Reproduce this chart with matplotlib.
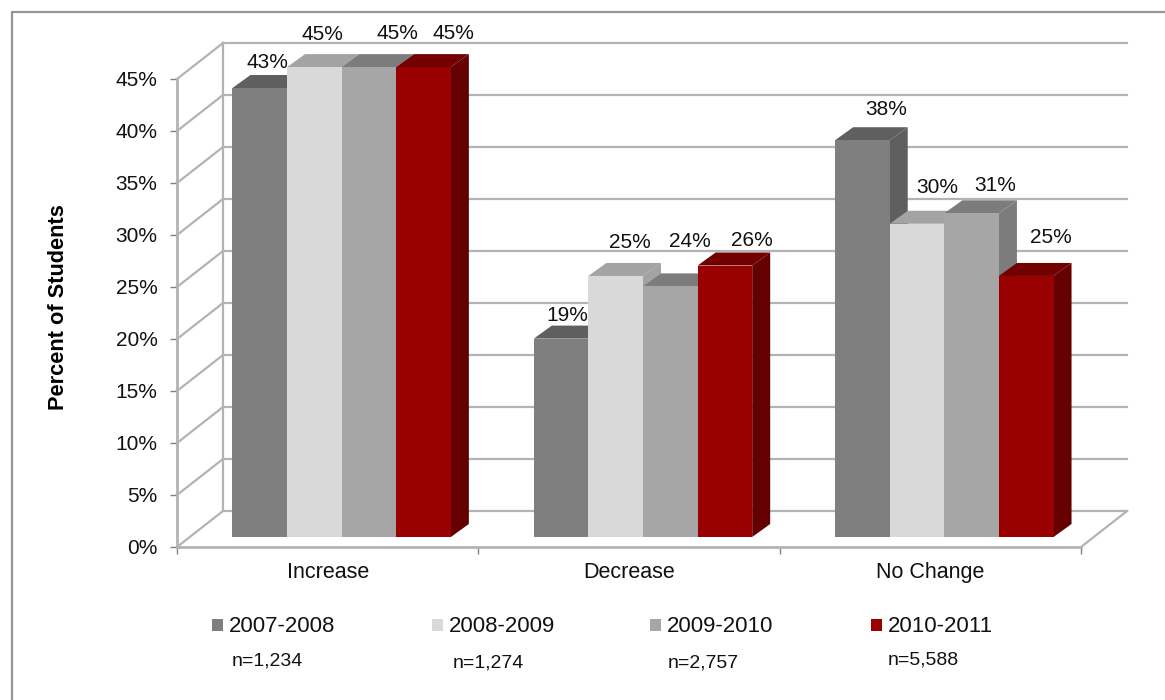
import numpy as np
import matplotlib
matplotlib.use('Agg')
import matplotlib.pyplot as plt
from matplotlib.patches import Polygon, Rectangle

plt.rcParams['font.family'] = ['Liberation Sans', 'DejaVu Sans']

#- Data
categories = ['Increase', 'Decrease', 'No Change']
years = ['2007-2008', '2008-2009', '2009-2010', '2010-2011']
counts = ['n=1,234', 'n=1,274', 'n=2,757', 'n=5,588']
values = {
    '2007-2008': [43, 19, 38],
    '2008-2009': [45, 25, 30],
    '2009-2010': [45, 24, 31],
    '2010-2011': [45, 26, 25],
}
yticks = [0, 5, 10, 15, 20, 25, 30, 35, 40, 45]

#- Colours: front, top, side
front = ['#7f7f7f', '#d9d9d9', '#a6a6a6', '#990000']
top = ['#5f5f5f', '#a3a3a3', '#7c7c7c', '#730000']
side = ['#5f5f5f', '#a3a3a3', '#7c7c7c', '#640000']
wall = '#b3b3b3'
ink = '#111111'

#- Label nudges from the bar's top left corner, in pixels, one row per category
nudge = [[(35, 26), (35, 33), (56, 34), (57, 34)],
         [(34, 23), (41, 33), (47, 45), (54, 25)],
         [(51, 31), (48, 36), (51, 28), (52, 38)]]

W, H = 1165, 700
fig = plt.figure(figsize=(W/100, H/100), dpi=100)

#- Outer frame, only the top and left edges are inside the picture
fig.add_artist(plt.Line2D([12/W, 12/W, 1], [0, 1-12/H, 1-12/H], color='#959595', lw=1.6))

#- Axes box is the front floor edge and the front 45% tick
x0, x1, y0, y1 = 177, 1081, 547, 79
ax = fig.add_axes([x0/W, 1-y0/H, (x1-x0)/W, (y0-y1)/H])
ax.set_xlim(0, 3)
ax.set_ylim(0, 45)
ax.patch.set_visible(False)

px = 3/(x1-x0)       # x data units per pixel
py = 45/(y0-y1)      # y data units per pixel
wall_dx, wall_dy = 46*px, 36*py
bar_dx, bar_dy = 18*px, 13*py
shift_x, shift_y = 14*px, 10*py
bar_w = 54.6*px
bar_scale = 1.004    # bars rise a touch faster than the axis in the original

#- Side wall and back wall gridlines
for t in yticks:
    ax.plot([0, wall_dx], [t, t+wall_dy], color=wall, lw=1.6, clip_on=False, zorder=1)
    ax.plot([wall_dx, 3+wall_dx], [t+wall_dy, t+wall_dy], color=wall, lw=1.6, clip_on=False, zorder=1)
ax.plot([wall_dx, wall_dx], [wall_dy, 45+wall_dy], color=wall, lw=1.6, clip_on=False, zorder=1)
ax.plot([3, 3+wall_dx], [0, wall_dy], color=wall, lw=1.6, clip_on=False, zorder=1)

#- Bars, each one drawn over the side face of the one before
for c in range(len(categories)):
    left = c + 0.5 + shift_x - 2*bar_w
    for s, year in enumerate(years):
        v = values[year][c]
        xl = left + s*bar_w
        xr = xl + bar_w
        base = shift_y
        yt = base + v*bar_scale
        z = 2 + s*0.1
        ax.add_patch(Polygon([(xr, base), (xr+bar_dx, base+bar_dy), (xr+bar_dx, yt+bar_dy), (xr, yt)],
                             facecolor=side[s], edgecolor='none', clip_on=False, zorder=z))
        ax.add_patch(Polygon([(xl, yt), (xl+bar_dx, yt+bar_dy), (xr+bar_dx, yt+bar_dy), (xr, yt)],
                             facecolor=top[s], edgecolor='none', clip_on=False, zorder=z))
        ax.bar(xl, yt-base, width=bar_w, bottom=base, align='edge', color=front[s],
               clip_on=False, zorder=z+0.05)
        ax.annotate('%d%%' % v, (xl, yt), xytext=nudge[c][s], textcoords='offset pixels',
                    fontsize=15, color=ink, va='center', ha='center', zorder=5,
                    annotation_clip=False)

#- Axes styling
for name in ['top', 'right']:
    ax.spines[name].set_visible(False)
for name in ['left', 'bottom']:
    ax.spines[name].set_color(wall)
    ax.spines[name].set_linewidth(2)
ax.set_yticks(yticks)
ax.set_yticklabels(['%d%%' % t for t in yticks], fontsize=15, color=ink)
ax.set_xticks([0, 1, 2, 3])
ax.set_xticklabels([])
ax.tick_params(axis='both', color='#808080', length=5, width=1)
ax.tick_params(axis='y', pad=9)

for i, cat in enumerate(categories):
    fig.text((x0 + (i+0.5)*(x1-x0)/3)/W, 1-572/H, cat, fontsize=15.5, color=ink,
             ha='center', va='baseline', y=1-578/H) if False else \
    fig.text((x0 + (i+0.5)*(x1-x0)/3)/W, 1-578/H, cat, fontsize=15.5, color=ink,
             ha='center', va='baseline')
fig.text(59/W, 1-307/H, 'Percent of Students', rotation=90, fontsize=15.7, fontweight='bold',
         ha='center', va='center', color='black')

#- Hand placed legend, same as the original slide
leg_x = [212, 432, 650, 871]
cnt_x = [267, 488, 703, 923]
cnt_y = [661, 663, 663, 660]
for i, year in enumerate(years):
    fig.add_artist(Rectangle((leg_x[i]/W, 1-631/H), 11/W, 12/H, transform=fig.transFigure,
                             facecolor=front[i], edgecolor='none'))
    fig.text((leg_x[i]+17)/W, 1-626/H, year, fontsize=16, color=ink, ha='left', va='center')
    fig.text(cnt_x[i]/W, 1-cnt_y[i]/H, counts[i], fontsize=14, color=ink, ha='center', va='center')

fig.savefig('out.png', dpi=100)
